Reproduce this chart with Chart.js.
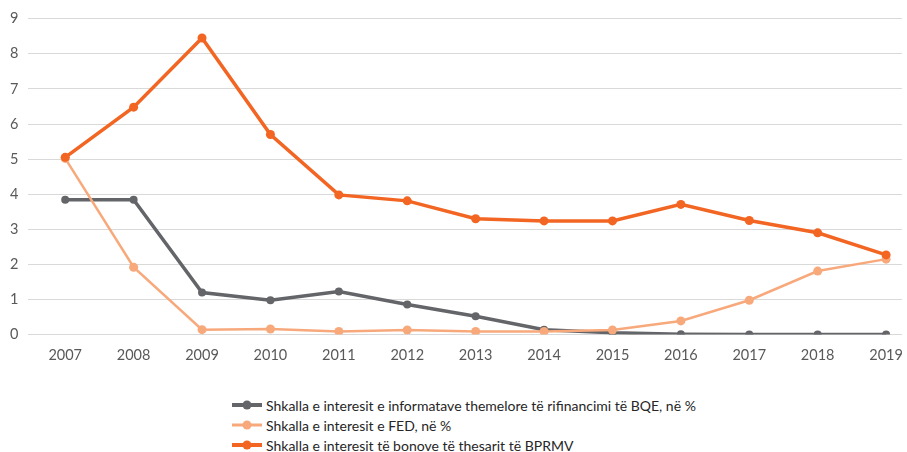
<!DOCTYPE html>
<html>
<head>
<meta charset="utf-8">
<script src="https://cdn.jsdelivr.net/npm/chart.js@4/dist/chart.umd.min.js"></script>
<style>
    body { margin: 0; background: #fff; width: 907px; height: 452px; overflow: hidden; font-family: Lato, sans-serif; }
    #wrap { position: relative; width: 907px; height: 368px; }
    #legend { position: absolute; left: 232px; top: 395px; }
    .item { height: 20px; display: flex; align-items: center; font-size: 14px; color: #262626; }
    .mark { position: relative; width: 30px; height: 10px; margin-right: 4px; }
    .mark .ln { position: absolute; left: 0; right: 0; top: 50%; transform: translateY(-50%); }
    .mark .dt { position: absolute; left: 50%; top: 50%; width: 9px; height: 9px; border-radius: 50%; transform: translate(-50%, -50%); }
</style>
</head>
<body>
<div id="wrap"><canvas id="chart"></canvas></div>
<div id="legend"></div>
<script>
var years = [2007, 2008, 2009, 2010, 2011, 2012, 2013, 2014, 2015, 2016, 2017, 2018, 2019];
var bqe = [3.84, 3.84, 1.20, 0.98, 1.23, 0.86, 0.52, 0.14, 0.05, 0.01, 0.0, 0.0, 0.0];
var fed = [5.02, 1.92, 0.14, 0.16, 0.09, 0.13, 0.09, 0.09, 0.13, 0.39, 0.98, 1.81, 2.15];
var bprmv = [5.05, 6.48, 8.45, 5.70, 3.98, 3.81, 3.30, 3.24, 3.24, 3.71, 3.25, 2.90, 2.27];
var yTicks = [0, 1, 2, 3, 4, 5, 6, 7, 8, 9];

var names = [
    "Shkalla e interesit e informatave themelore të rifinancimi të BQE, në %",
    "Shkalla e interesit e FED, në %",
    "Shkalla e interesit të bonove të thesarit të BPRMV"
];

function pts(vals) {
    return years.map(function (yr, i) { return { x: yr, y: vals[i] }; });
}

var sets = [
    { label: names[0], data: pts(bqe), color: "#636569", borderWidth: 3.5, pointRadius: 4, lw: 4, order: 2 },
    { label: names[1], data: pts(fed), color: "#f8a97c", borderWidth: 2.5, pointRadius: 4.5, lw: 3, order: 1 },
    { label: names[2], data: pts(bprmv), color: "#f26522", borderWidth: 3.5, pointRadius: 4.5, lw: 4, order: 0 }
];

new Chart(document.getElementById("chart"), {
    type: 'line',
    data: {
        datasets: sets.map(function (s) {
            return {
                label: s.label,
                data: s.data,
                borderColor: s.color,
                backgroundColor: s.color,
                borderWidth: s.borderWidth,
                pointRadius: s.pointRadius,
                pointHoverRadius: s.pointRadius,
                pointBorderWidth: 0,
                fill: false,
                tension: 0,
                order: s.order
            };
        })
    },
    options: {
        responsive: true,
        maintainAspectRatio: false,
        animation: false,
        layout: { padding: { top: 13, left: 0, right: 0, bottom: 0 } },
        plugins: {
            legend: { display: false },
            tooltip: { enabled: false }
        },
        scales: {
            x: {
                type: 'linear',
                min: 2006.462,
                max: 2019.232,
                grid: { display: false },
                border: { display: false },
                afterBuildTicks: function (axis) {
                    axis.ticks = years.map(function (v) { return { value: v }; });
                },
                ticks: {
                    color: "#595959",
                    font: { family: "Lato", size: 14.5 },
                    padding: 4,
                    maxRotation: 0,
                    callback: function (v) { return String(v); }
                }
            },
            y: {
                min: 0,
                max: 9,
                grid: { color: "#d9d9d9", lineWidth: 1, drawTicks: false },
                border: { display: false },
                afterBuildTicks: function (axis) {
                    axis.ticks = yTicks.map(function (v) { return { value: v }; });
                },
                ticks: {
                    color: "#595959",
                    font: { family: "Lato", size: 14.5 },
                    padding: 10
                }
            }
        }
    }
});

// legend below, stacked like the original
var leg = document.getElementById("legend");
sets.forEach(function (s) {
    var row = document.createElement("div");
    row.className = "item";
    row.innerHTML = '<span class="mark"><span class="ln" style="height:' + s.lw + 'px;background:' + s.color +
        '"></span><span class="dt" style="background:' + s.color + '"></span></span><span>' + s.label + '</span>';
    leg.appendChild(row);
});
</script>
</body>
</html>
